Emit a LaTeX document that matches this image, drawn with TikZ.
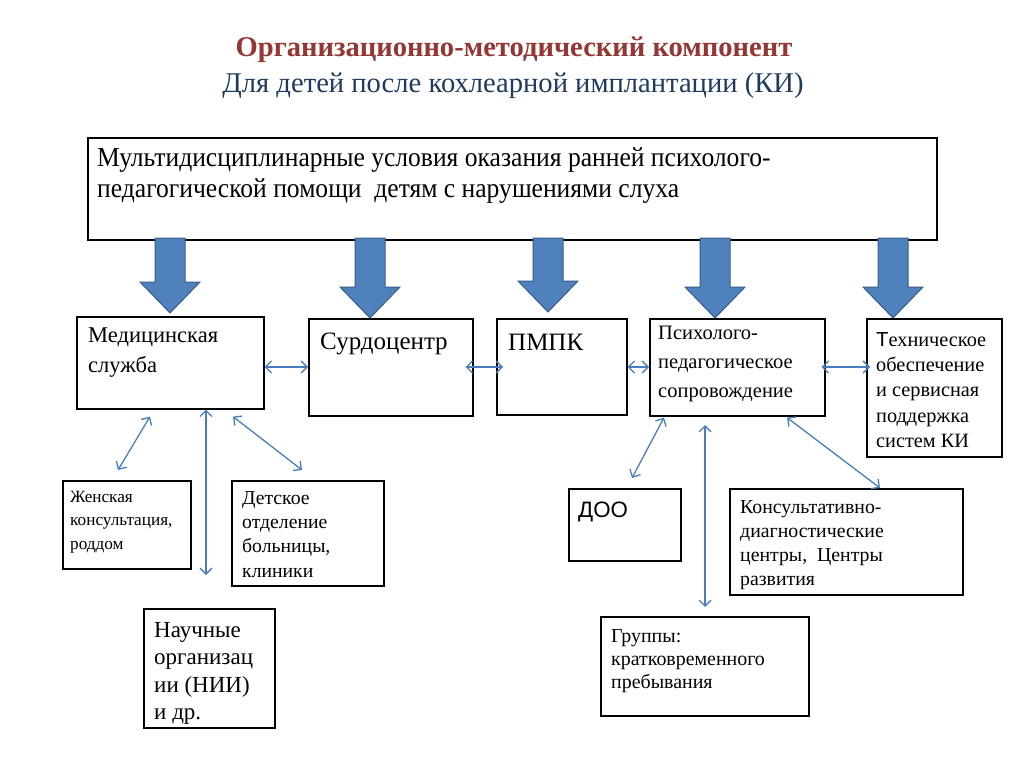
\documentclass[tikz,border=0pt]{standalone}
\usepackage{fontspec}
\setmainfont{Liberation Serif}
\newfontfamily\sansf{Liberation Sans}
\newfontfamily\condf{Liberation Serif}[FakeStretch=0.93]
\usetikzlibrary{arrows.meta,calc}
\definecolor{titlered}{HTML}{943634}
\definecolor{titlenavy}{HTML}{1F3A60}
\definecolor{bigfill}{HTML}{4F81BD}
\definecolor{bigline}{HTML}{385D8A}
\definecolor{thin}{HTML}{4A7EBB}
\tikzset{
  box/.style={draw=black, line width=1.6pt, fill=white, anchor=north west, inner sep=0pt},
  txt/.style={anchor=north west, inner sep=0pt, align=left, text=black},
  conn/.style={draw=thin, line width=1.3pt, {Straight Barb[length=6pt,width=12pt]}-{Straight Barb[length=6pt,width=12pt]}},
  bigarrow/.style={fill=bigfill, draw=bigline, line width=1pt, line join=miter}
}
\newcommand{\bigarr}[3]{% x, top, tip
  \draw[bigarrow] (#1-15,#2) -- (#1+15,#2) -- (#1+15,#3-31) -- (#1+30,#3-31) -- (#1,#3) -- (#1-30,#3-31) -- (#1-15,#3-31) -- cycle;}
\begin{document}
\begin{tikzpicture}[x=1pt,y=-1pt]
\useasboundingbox[fill=white] (0,0) rectangle (1024,767);
% title
\node[font=\fontsize{28.6}{32}\selectfont\bfseries, text=titlered, inner sep=0pt] (t1) at (514,50) {Организационно-методический компонент};
\node[font=\fontsize{28.6}{32}\selectfont, text=titlenavy, inner sep=0pt] (t2) at (513,86) {Для детей после кохлеарной имплантации (КИ)};
% top box
\node[box, minimum width=849pt, minimum height=102pt] (top) at (87,137) {};
\node[txt, font=\condf\fontsize{27.5}{31}\selectfont] (toptxt) at (97,147) {Мультидисциплинарные условия оказания ранней психолого-\\педагогической помощи\ \ детям с нарушениями слуха};
% big arrows
\bigarr{170}{238}{313}
\bigarr{370}{238}{318}
\bigarr{548}{238}{312}
\bigarr{715}{238}{318}
\bigarr{893}{238}{318}
% second row
\node[box, minimum width=187pt, minimum height=92pt] (med) at (76,316) {};
\node[txt, font=\fontsize{22.5}{30}\selectfont] (medt) at (88,328) {Медицинская\\служба};
\node[box, minimum width=164pt, minimum height=97pt] (surdo) at (308,318) {};
\node[txt, font=\fontsize{25}{30}\selectfont] (surdot) at (320,333) {Сурдоцентр};
\node[box, minimum width=130pt, minimum height=96pt] (pmpk) at (496,318) {};
\node[txt, font=\fontsize{25}{30}\selectfont] (pmpkt) at (508,334) {ПМПК};
\node[box, minimum width=175pt, minimum height=97pt] (psy) at (649,318) {};
\node[txt, font=\fontsize{20.5}{29}\selectfont] (psyt) at (658,326) {Психолого-\\педагогическое\\сопровождение};
\node[box, minimum width=135pt, minimum height=138pt] (tech) at (866,318) {};
\node[txt, font=\fontsize{20.3}{25.3}\selectfont] (techt) at (876,332) {{\sansf Т}ехническое\\обеспечение\\и сервисная\\поддержка\\систем КИ};
% lower left
\node[box, minimum width=128pt, minimum height=88pt] (zhen) at (62,480) {};
\node[txt, font=\fontsize{17.2}{23.5}\selectfont] (zhent) at (70,491) {Женская\\консультация,\\роддом};
\node[box, minimum width=152pt, minimum height=105pt] (det) at (231,480) {};
\node[txt, font=\fontsize{19.7}{24.3}\selectfont] (dett) at (242,491) {Детское\\отделение\\больницы,\\клиники};
\node[box, minimum width=131pt, minimum height=119pt] (nii) at (143,608) {};
\node[txt, font=\fontsize{23}{27.5}\selectfont] (niit) at (154,622) {Научные\\организац\\ии (НИИ)\\и др.};
% lower right
\node[box, minimum width=112pt, minimum height=72pt] (doo) at (568,488) {};
\node[txt, font=\sansf\fontsize{22.3}{25}\selectfont] (doot) at (578,502) {ДОО};
\node[box, minimum width=233pt, minimum height=106pt] (kons) at (729,488) {};
\node[txt, font=\fontsize{19.8}{24}\selectfont] (konst) at (740,500) {Консультативно-\\диагностические\\центры,\ \ Центры\\развития};
\node[box, minimum width=208pt, minimum height=99pt] (grp) at (600,616) {};
\node[txt, font=\fontsize{19.9}{23}\selectfont] (grpt) at (611,629) {Группы:\\кратковременного\\пребывания};
% horizontal connectors
\draw[conn] (med.east |- 0,367) -- (surdo.west |- 0,367);
\draw[conn, shorten <=-8pt, shorten >=-7pt] (surdo.east |- 0,367) -- (pmpk.west |- 0,367);
\draw[conn] (pmpk.east |- 0,367) -- (psy.west |- 0,367);
\draw[conn, shorten <=-4pt, shorten >=-4pt] (psy.east |- 0,367) -- (tech.west |- 0,367);
% lower connectors
\coordinate (m1) at ($(med.south west)+(74,7)$);
\coordinate (m1e) at ($(zhen.north west)+(56,-10)$);
\draw[conn] (m1) -- (m1e);
\coordinate (m2) at ($(med.south west)+(130,0)$);
\coordinate (m2e) at (206,575);
\draw[conn] (m2) -- (m2e);
\coordinate (m3) at ($(med.south west)+(157,7)$);
\coordinate (m3e) at ($(det.north west)+(71,-10)$);
\draw[conn] (m3) -- (m3e);
\coordinate (p1) at ($(psy.south west)+(15,1)$);
\coordinate (p1e) at ($(doo.north west)+(64,-10)$);
\draw[conn] (p1) -- (p1e);
\coordinate (p2) at (705,425);
\coordinate (p2e) at (705,607);
\draw[conn] (p2) -- (p2e);
\coordinate (p3) at ($(psy.south west)+(138,1)$);
\coordinate (p3e) at ($(kons.north west)+(151,0)$);
\draw[conn] (p3) -- (p3e);
\end{tikzpicture}
\end{document}
